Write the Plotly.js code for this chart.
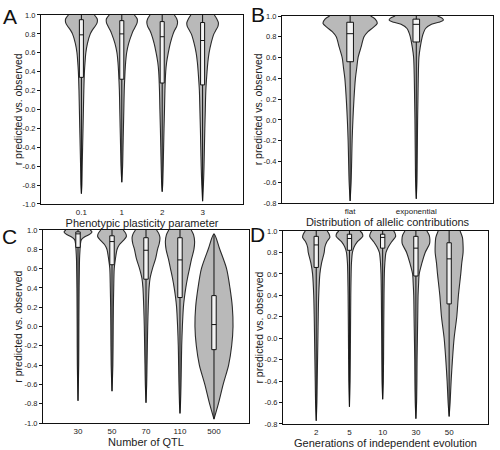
<!DOCTYPE html>
<html><head><meta charset="utf-8">
<script src="https://cdn.plot.ly/plotly-3.0.1.min.js"></script>
<style>html,body{margin:0;padding:0;background:#fff;}#g{width:500px;height:450px;}</style>
</head><body><div id="g"></div>
<script>
// ---------- Panel A: phenotypic plasticity parameter ----------
const catsA = ['0.1', '1', '2', '3'];
const q1A  = [0.34, 0.32, 0.28, 0.26];
const medA = [0.79, 0.80, 0.77, 0.73];
const q3A  = [0.95, 0.94, 0.93, 0.92];
const minA = [-0.89, -0.77, -0.87, -0.97];
const maxA = [1.0, 1.0, 1.0, 1.0];
const levA = [
  [1.0, 0.96, 0.92, 0.88, 0.84, 0.8, 0.7, 0.6, 0.5, 0.4, 0.2, 0.0, -0.2, -0.4, -0.6, -0.8, -0.89],
  [1.0, 0.96, 0.92, 0.88, 0.84, 0.8, 0.7, 0.6, 0.5, 0.4, 0.2, 0.0, -0.2, -0.4, -0.6, -0.77],
  [1.0, 0.96, 0.92, 0.88, 0.84, 0.8, 0.7, 0.6, 0.5, 0.4, 0.2, 0.0, -0.2, -0.4, -0.6, -0.8, -0.87],
  [1.0, 0.96, 0.92, 0.88, 0.84, 0.8, 0.7, 0.6, 0.5, 0.4, 0.2, 0.0, -0.2, -0.4, -0.6, -0.8, -0.97]
];
const widA = [
  [0.32, 0.39, 0.39, 0.34, 0.27, 0.22, 0.15, 0.11, 0.09, 0.075, 0.06, 0.05, 0.04, 0.03, 0.02, 0.012, 0],
  [0.31, 0.38, 0.38, 0.34, 0.29, 0.25, 0.17, 0.12, 0.095, 0.08, 0.06, 0.05, 0.04, 0.03, 0.02, 0],
  [0.30, 0.36, 0.38, 0.36, 0.31, 0.27, 0.2, 0.15, 0.11, 0.087, 0.067, 0.057, 0.045, 0.035, 0.025, 0.012, 0],
  [0.29, 0.35, 0.39, 0.38, 0.33, 0.28, 0.21, 0.16, 0.13, 0.11, 0.08, 0.067, 0.055, 0.045, 0.035, 0.02, 0]
];

// ---------- Panel B: distribution of allelic contributions ----------
const catsB = ['flat', 'exponential'];
const q1B  = [0.56, 0.75];
const medB = [0.83, 0.92];
const q3B  = [0.94, 0.97];
const minB = [-0.78, -0.76];
const maxB = [1.0, 1.0];
const levB = [
  [1.0, 0.97, 0.93, 0.89, 0.85, 0.8, 0.7, 0.6, 0.5, 0.4, 0.2, 0.0, -0.2, -0.4, -0.6, -0.78],
  [1.0, 0.98, 0.96, 0.94, 0.92, 0.88, 0.84, 0.8, 0.7, 0.6, 0.4, 0.2, 0.0, -0.2, -0.4, -0.6, -0.76]
];
const widB = [
  [0.31, 0.38, 0.41, 0.35, 0.27, 0.21, 0.165, 0.12, 0.1, 0.08, 0.058, 0.042, 0.03, 0.023, 0.015, 0],
  [0.32, 0.39, 0.41, 0.34, 0.23, 0.14, 0.11, 0.09, 0.06, 0.04, 0.03, 0.025, 0.02, 0.017, 0.014, 0.01, 0]
];

// ---------- Panel C: number of QTL ----------
const catsC = ['30', '50', '70', '110', '500'];
const q1C  = [0.82, 0.64, 0.49, 0.30, -0.24];
const medC = [0.96, 0.88, 0.79, 0.69, 0.02];
const q3C  = [0.98, 0.94, 0.92, 0.92, 0.32];
const minC = [-0.77, -0.67, -0.79, -0.90, -0.96];
const maxC = [1.0, 1.0, 1.0, 1.0, 0.96];
const levC = [
  [1.0, 0.98, 0.96, 0.93, 0.9, 0.85, 0.8, 0.7, 0.6, 0.4, 0.2, 0.0, -0.4, -0.77],
  [1.0, 0.96, 0.93, 0.89, 0.85, 0.8, 0.7, 0.6, 0.4, 0.2, 0.0, -0.4, -0.67],
  [1.0, 0.96, 0.92, 0.86, 0.8, 0.7, 0.6, 0.5, 0.4, 0.2, 0.0, -0.2, -0.4, -0.6, -0.79],
  [1.0, 0.95, 0.88, 0.8, 0.7, 0.6, 0.5, 0.4, 0.3, 0.2, 0.0, -0.2, -0.4, -0.6, -0.8, -0.9],
  [0.96, 0.8, 0.6, 0.4, 0.2, 0.0, -0.2, -0.4, -0.6, -0.8, -0.96]
];
const widC = [
  [0.36, 0.41, 0.36, 0.2, 0.1, 0.07, 0.06, 0.045, 0.04, 0.032, 0.028, 0.025, 0.02, 0],
  [0.33, 0.41, 0.42, 0.33, 0.22, 0.15, 0.1, 0.065, 0.05, 0.04, 0.035, 0.025, 0],
  [0.31, 0.38, 0.41, 0.39, 0.34, 0.28, 0.19, 0.12, 0.09, 0.066, 0.05, 0.04, 0.03, 0.02, 0],
  [0.33, 0.40, 0.43, 0.41, 0.34, 0.28, 0.22, 0.17, 0.13, 0.1, 0.07, 0.05, 0.04, 0.03, 0.015, 0],
  [0, 0.17, 0.37, 0.47, 0.54, 0.56, 0.52, 0.43, 0.27, 0.13, 0]
];

// ---------- Panel D: generations of independent evolution ----------
const catsD = ['2', '5', '10', '30', '50'];
const q1D  = [0.66, 0.82, 0.84, 0.58, 0.32];
const medD = [0.87, 0.93, 0.94, 0.84, 0.74];
const q3D  = [0.95, 0.97, 0.97, 0.95, 0.89];
const minD = [-0.77, -0.64, -0.57, -0.75, -0.73];
const maxD = [1.0, 1.0, 1.0, 1.0, 1.0];
const levD = [
  [1.0, 0.97, 0.94, 0.9, 0.85, 0.8, 0.7, 0.6, 0.4, 0.2, 0.0, -0.2, -0.4, -0.6, -0.77],
  [1.0, 0.98, 0.95, 0.9, 0.85, 0.8, 0.7, 0.6, 0.4, 0.0, -0.4, -0.64],
  [1.0, 0.98, 0.95, 0.9, 0.85, 0.8, 0.7, 0.6, 0.4, 0.0, -0.4, -0.57],
  [1.0, 0.96, 0.92, 0.88, 0.8, 0.7, 0.6, 0.5, 0.4, 0.2, 0.0, -0.2, -0.4, -0.6, -0.75],
  [1.0, 0.94, 0.86, 0.8, 0.7, 0.6, 0.4, 0.2, 0.0, -0.2, -0.4, -0.6, -0.73]
];
const widD = [
  [0.33, 0.39, 0.41, 0.32, 0.26, 0.24, 0.16, 0.11, 0.075, 0.06, 0.05, 0.04, 0.03, 0.02, 0],
  [0.32, 0.38, 0.40, 0.24, 0.14, 0.09, 0.06, 0.05, 0.04, 0.03, 0.02, 0],
  [0.33, 0.37, 0.39, 0.27, 0.17, 0.1, 0.065, 0.05, 0.04, 0.03, 0.02, 0],
  [0.33, 0.40, 0.42, 0.41, 0.28, 0.18, 0.1, 0.08, 0.065, 0.055, 0.045, 0.035, 0.03, 0.02, 0],
  [0.33, 0.40, 0.42, 0.42, 0.38, 0.35, 0.28, 0.23, 0.15, 0.1, 0.06, 0.03, 0]
];

const yTicksAC = [-1.0, -0.8, -0.6, -0.4, -0.2, 0.0, 0.2, 0.4, 0.6, 0.8, 1.0];
const yTicksBD = [-0.8, -0.6, -0.4, -0.2, 0.0, 0.2, 0.4, 0.6, 0.8, 1.0];
const panelLetters = ['A', 'B', 'C', 'D'];
const xTitles = ['Phenotypic plasticity parameter', 'Distribution of allelic contributions',
                 'Number of QTL', 'Generations of independent evolution'];
const yTitle = 'r predicted vs. observed';

// ---------- build ----------
const FONT = 'Liberation Sans, Arial, sans-serif';
const traces = [];
function addPanel(n, cats, lev, wid, q1, med, q3, mn, mx, boxW) {
  const xa = 'x' + (n === 1 ? '' : n), ya = 'y' + (n === 1 ? '' : n);
  cats.forEach((c, i) => {
    const pos = i + 1;
    const L = lev[i], W = wid[i];
    const xs = [], ys = [];
    for (let k = 0; k < L.length; k++) { xs.push(pos + W[k]); ys.push(L[k]); }
    for (let k = L.length - 1; k >= 0; k--) { xs.push(pos - W[k]); ys.push(L[k]); }
    traces.push({type: 'scatter', mode: 'lines', x: xs, y: ys, xaxis: xa, yaxis: ya,
      fill: 'toself', fillcolor: '#b9b9b9', line: {color: '#2a2a2a', width: 1.1, shape: 'spline', smoothing: 0.8},
      hoverinfo: 'skip', showlegend: false});
  });
  // boxes on an overlay subplot so they are drawn above the violin fills
  traces.push({type: 'box', orientation: 'v', x: cats.map((c, i) => i + 1), q1: q1, median: med, q3: q3,
    lowerfence: mn, upperfence: mx, xaxis: 'x' + (n + 4), yaxis: 'y' + (n + 4), width: boxW, whiskerwidth: 0,
    fillcolor: '#f4f4f4', line: {color: '#111', width: 1}, boxpoints: false, showlegend: false, hoverinfo: 'skip'});
}
addPanel(1, catsA, levA, widA, q1A, medA, q3A, minA, maxA, 0.1);
addPanel(2, catsB, levB, widB, q1B, medB, q3B, minB, maxB, 0.1);
addPanel(3, catsC, levC, widC, q1C, medC, q3C, minC, maxC, 0.13);
addPanel(4, catsD, levD, widD, q1D, medD, q3D, minD, maxD, 0.13);

function xAx(dom, anchor, cats, range, title) {
  return {domain: dom, anchor: anchor, range: range, tickvals: cats.map((c, i) => i + 1), ticktext: cats,
    showgrid: false, zeroline: false, showline: true, mirror: true, linecolor: '#111', linewidth: 1,
    ticks: '', tickfont: {size: 8, color: '#222', family: FONT}, automargin: false,
    title: {text: title, font: {size: 11, color: '#222', family: FONT}, standoff: 2}};
}
function yAx(dom, anchor, ticks, range) {
  return {domain: dom, anchor: anchor, range: range, tickvals: ticks, ticktext: ticks.map(v => v.toFixed(1)),
    showgrid: false, zeroline: false, showline: true, mirror: true, linecolor: '#111', linewidth: 1,
    ticks: 'outside', ticklen: 3, tickcolor: '#111', tickfont: {size: 7.5, color: '#222', family: FONT},
    automargin: false};
}
function overX(base, range) { return {overlaying: base, range: range, visible: false, fixedrange: true}; }
function overY(base, range) { return {overlaying: base, range: range, visible: false, fixedrange: true}; }

const rA = [0, 5], rB = [-0.03, 3.16], rC = [-0.03, 6.03], rD = [0, 6.17];
const letterPos = [[0.004, 0.992], [0.500, 0.996], [0.002, 0.502], [0.498, 0.506]];
const yTitlePos = [[0.036, 0.757], [0.516, 0.757], [0.036, 0.274], [0.518, 0.272]];
const layout = {
  width: 500, height: 450, margin: {l: 0, r: 0, t: 0, b: 0},
  paper_bgcolor: '#fff', plot_bgcolor: '#fff', showlegend: false,
  font: {family: FONT, color: '#222'},
  xaxis:  xAx([0.082, 0.486], 'y',  catsA, rA, xTitles[0]),
  yaxis:  yAx([0.5467, 0.9667], 'x',  yTicksAC, [-1, 1]),
  xaxis2: xAx([0.564, 0.986], 'y2', catsB, rB, xTitles[1]),
  yaxis2: yAx([0.5489, 0.9644], 'x2', yTicksBD, [-0.8, 1]),
  xaxis3: xAx([0.086, 0.498], 'y3', catsC, rC, xTitles[2]),
  yaxis3: yAx([0.06, 0.4889], 'x3', yTicksAC, [-1, 1]),
  xaxis4: xAx([0.566, 0.976], 'y4', catsD, rD, xTitles[3]),
  yaxis4: yAx([0.0578, 0.4867], 'x4', yTicksBD, [-0.8, 1]),
  xaxis5: overX('x', rA),  yaxis5: overY('y', [-1, 1]),
  xaxis6: overX('x2', rB), yaxis6: overY('y2', [-0.8, 1]),
  xaxis7: overX('x3', rC), yaxis7: overY('y3', [-1, 1]),
  xaxis8: overX('x4', rD), yaxis8: overY('y4', [-0.8, 1]),
  annotations: letterPos.map((p, i) => ({text: panelLetters[i], x: p[0], y: p[1], xref: 'paper', yref: 'paper',
      xanchor: 'left', yanchor: 'top', showarrow: false, borderpad: 0,
      font: {size: 21, color: '#111', family: FONT}}))
    .concat(yTitlePos.map(p => ({text: yTitle, x: p[0], y: p[1], xref: 'paper', yref: 'paper',
      xanchor: 'center', yanchor: 'middle', textangle: -90, showarrow: false, borderpad: 0,
      font: {size: 10.5, color: '#222', family: FONT}})))
};

Plotly.newPlot('g', traces, layout, {staticPlot: true, displayModeBar: false});
</script>
</body></html>
